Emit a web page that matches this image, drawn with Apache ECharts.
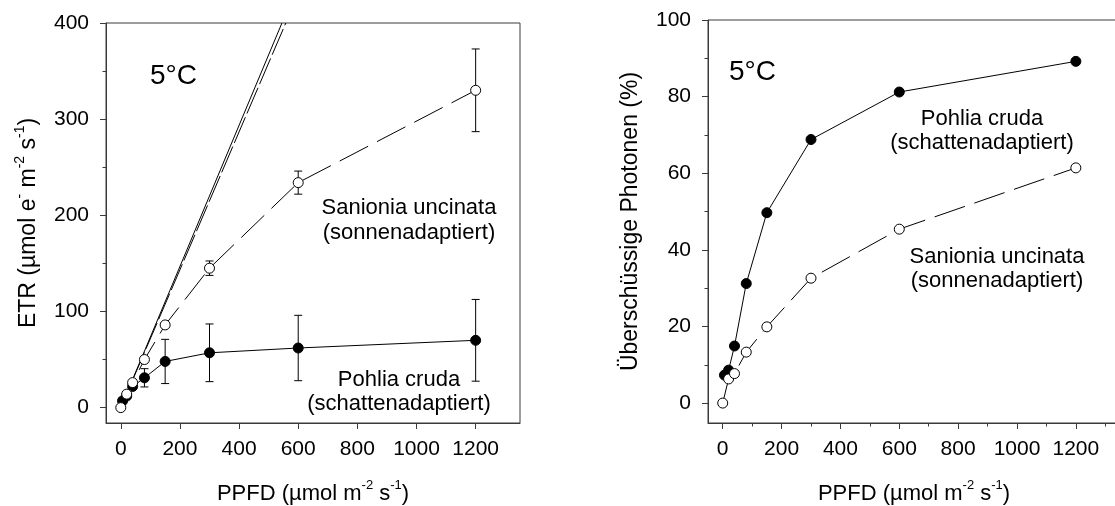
<!DOCTYPE html>
<html>
<head>
<meta charset="utf-8">
<style>
  html, body { margin: 0; padding: 0; background: #fff; }
  #main { width: 1115px; height: 506px; }
</style>
<script src="https://cdn.jsdelivr.net/npm/echarts@6.0.0/dist/echarts.min.js"></script>
</head>
<body>
<div id="main"></div>
<script>
// PPFD-Stufen (µmol m-2 s-1)
var ppfdPohlia = [6, 20, 40, 80, 150, 300, 600, 1200];
var ppfdSanionia = [0, 20, 40, 80, 150, 300, 600, 1200];

// ETR links
var etrPohlia = [7, 12, 22, 31, 48, 57, 62, 70];
var etrPohliaErr = [0, 0, 0, 9.5, 23, 30, 34, 42.5];
var etrSanionia = [0, 14, 26, 50, 86, 145, 234, 330];
var etrSanioniaErr = [0, 0, 0, 0, 0, 7.5, 12, 43];

// Anfangssteigung (Geraden)
var slopeSolidX = [0, 545];
var slopeDashX = [0, 558];
var slopeY = [0, 400];

// Überschüssige Photonen rechts (%)
var excessPohlia = [7.3, 8.6, 14.9, 31.2, 49.7, 68.8, 81.2, 89.2];
var excessSanionia = [0, 6.3, 7.7, 13.3, 19.9, 32.6, 45.4, 61.4];

// Achsenbeschriftungen
var xTicks = [0, 200, 400, 600, 800, 1000, 1200];
var xMinorTicks = [100, 300, 500, 700, 900, 1100, 1300];
var etrTicks = [0, 100, 200, 300, 400];
var etrMinorTicks = [50, 150, 250, 350];
var excessTicks = [0, 20, 40, 60, 80, 100];
var excessMinorTicks = [10, 30, 50, 70, 90];

var FONT = '"Liberation Sans", Arial, sans-serif';
var AXIS = '#3a3a3a';

function pairs(xs, ys) {
    return xs.map(function (x, i) { return [x, ys[i]]; });
}
function errPairs(xs, ys, es) {
    return xs.map(function (x, i) { return [x, ys[i], es[i]]; });
}
function plain(v) { return String(v); }

function richName(size) {
    return {
        n: { fontSize: size, fontFamily: FONT, color: '#000', verticalAlign: 'bottom', lineHeight: size + 4 },
        s: { fontSize: Math.round(size * 0.6), fontFamily: FONT, color: '#000', verticalAlign: 'top', lineHeight: size + 4 }
    };
}

function mainX(grid, name) {
    return {
        type: 'value', gridIndex: grid, min: -50, max: 1350, position: 'bottom',
        name: name, nameLocation: 'middle', nameGap: 56,
        nameTextStyle: { fontSize: 22, fontFamily: FONT, color: '#000', rich: richName(22) },
        axisLine: { show: true, onZero: false, lineStyle: { color: AXIS, width: 1 } },
        axisTick: { show: true, inside: false, length: 6, customValues: xTicks, lineStyle: { color: AXIS } },
        axisLabel: { show: true, margin: 16, customValues: xTicks, formatter: plain, fontSize: 21, fontFamily: FONT, color: '#000' },
        splitLine: { show: false }
    };
}
function minorAxis(pos, grid, min, max, vals) {
    return {
        type: 'value', gridIndex: grid, min: min, max: max, position: pos,
        axisLine: { show: false, onZero: false },
        axisTick: { show: true, inside: false, length: 3.5, customValues: vals, lineStyle: { color: AXIS } },
        axisLabel: { show: false },
        splitLine: { show: false }
    };
}
function mainY(grid, min, max, ticks, name) {
    return {
        type: 'value', gridIndex: grid, min: min, max: max, position: 'left',
        name: name, nameLocation: 'middle', nameGap: 66, nameRotate: 90,
        nameTextStyle: { fontSize: 23, fontFamily: FONT, color: '#000', rich: richName(23) },
        axisLine: { show: true, onZero: false, lineStyle: { color: AXIS, width: 1 } },
        axisTick: { show: true, inside: false, length: 6, customValues: ticks, lineStyle: { color: AXIS } },
        axisLabel: { show: true, margin: 17, customValues: ticks, formatter: plain, fontSize: 21, fontFamily: FONT, color: '#000' },
        splitLine: { show: false }
    };
}

function errorBars(xi, yi, data) {
    return {
        type: 'custom', xAxisIndex: xi, yAxisIndex: yi, z: 1,
        encode: { x: 0, y: 1 },
        data: data,
        renderItem: function (params, api) {
            var x = api.value(0), y = api.value(1), e = api.value(2);
            if (!e) return { type: 'group', children: [] };
            var top = api.coord([x, y + e]);
            var bot = api.coord([x, y - e]);
            var w = 4;
            var st = { stroke: '#000', lineWidth: 1 };
            return {
                type: 'group',
                children: [
                    { type: 'line', shape: { x1: top[0], y1: top[1], x2: bot[0], y2: bot[1] }, style: st },
                    { type: 'line', shape: { x1: top[0] - w, y1: top[1], x2: top[0] + w, y2: top[1] }, style: st },
                    { type: 'line', shape: { x1: bot[0] - w, y1: bot[1], x2: bot[0] + w, y2: bot[1] }, style: st }
                ]
            };
        }
    };
}

function filledSeries(xi, yi, data) {
    return {
        type: 'line', xAxisIndex: xi, yAxisIndex: yi, z: 3,
        data: data, symbol: 'circle', symbolSize: 10, showSymbol: true,
        lineStyle: { color: '#000', width: 1 },
        itemStyle: { color: '#000', borderColor: '#000', borderWidth: 1 }
    };
}
function openSeries(xi, yi, data) {
    return {
        type: 'line', xAxisIndex: xi, yAxisIndex: yi, z: 4,
        data: data, symbol: 'circle', symbolSize: 10, showSymbol: true,
        lineStyle: { color: '#000', width: 1, type: [32, 10] },
        itemStyle: { color: '#fff', borderColor: '#000', borderWidth: 1 }
    };
}

function label(text, x, y, size, align) {
    return {
        type: 'text', x: x, y: y, silent: true,
        style: {
            text: text, font: size + 'px ' + FONT, fill: '#000',
            textAlign: align || 'center', textVerticalAlign: 'middle', verticalAlign: 'middle'
        }
    };
}

var myChart = echarts.init(document.getElementById('main'));

var option = {
    animation: false,
    backgroundColor: '#fff',
    grid: [
        { left: 106, top: 23, width: 414, height: 400, show: true, borderColor: AXIS, borderWidth: 1, containLabel: false, outerBoundsMode: 'none' },
        { left: 708, top: 20, width: 412, height: 403, show: true, borderColor: AXIS, borderWidth: 1, containLabel: false, outerBoundsMode: 'none' }
    ],
    xAxis: [
        mainX(0, '{n|PPFD (µmol m}{s|-2}{n| s}{s|-1}{n|)}'),
        mainX(1, '{n|PPFD (µmol m}{s|-2}{n| s}{s|-1}{n|)}'),
        minorAxis('bottom', 1, -50, 1350, xMinorTicks)
    ],
    yAxis: [
        mainY(0, -16, 400, etrTicks, '{n|ETR (µmol e}{s|-}{n| m}{s|-2}{n| s}{s|-1}{n|)}'),
        minorAxis('left', 0, -16, 400, etrMinorTicks),
        mainY(1, -5.2, 100, excessTicks, '{n|Überschüssige Photonen (%)}'),
        minorAxis('left', 1, -5.2, 100, excessMinorTicks)
    ],
    series: [
        errorBars(0, 0, errPairs(ppfdPohlia, etrPohlia, etrPohliaErr)),
        errorBars(0, 0, errPairs(ppfdSanionia, etrSanionia, etrSanioniaErr)),
        {
            type: 'line', xAxisIndex: 0, yAxisIndex: 0, z: 2,
            data: pairs(slopeSolidX, slopeY), symbol: 'none',
            lineStyle: { color: '#000', width: 1 }
        },
        {
            type: 'line', xAxisIndex: 0, yAxisIndex: 0, z: 2,
            data: pairs(slopeDashX, slopeY), symbol: 'none',
            lineStyle: { color: '#000', width: 1, type: [28, 4] }
        },
        filledSeries(0, 0, pairs(ppfdPohlia, etrPohlia)),
        openSeries(0, 0, pairs(ppfdSanionia, etrSanionia)),
        filledSeries(1, 2, pairs(ppfdPohlia, excessPohlia)),
        openSeries(1, 2, pairs(ppfdSanionia, excessSanionia))
    ],
    graphic: [
        label('5°C', 150, 76, 28, 'left'),
        label('Sanionia uncinata', 409, 208, 22),
        label('(sonnenadaptiert)', 409, 233, 22),
        label('Pohlia cruda', 399, 380, 22),
        label('(schattenadaptiert)', 399, 404, 22),
        label('5°C', 729, 72, 28, 'left'),
        label('Pohlia cruda', 982, 119, 22),
        label('(schattenadaptiert)', 982, 143, 22),
        label('Sanionia uncinata', 997, 257, 22),
        label('(sonnenadaptiert)', 997, 281, 22)
    ]
};

myChart.setOption(option);
</script>
</body>
</html>
